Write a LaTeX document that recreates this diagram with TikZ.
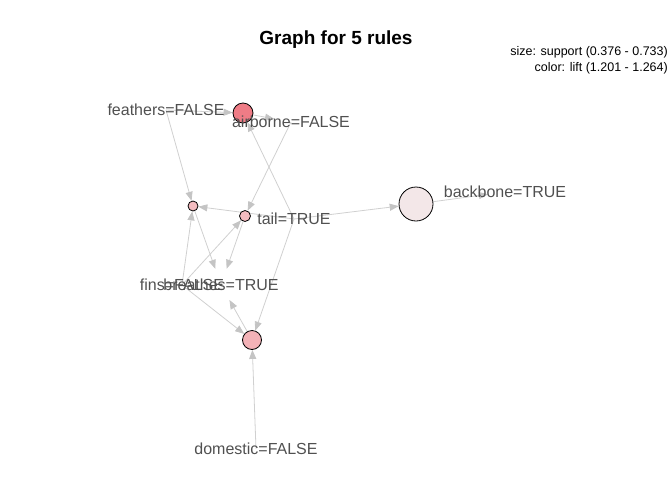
\documentclass[tikz,border=0pt]{standalone}
\usepackage{fontspec}
\setmainfont{Liberation Sans}
\usetikzlibrary{arrows.meta,backgrounds}
\definecolor{edgec}{RGB}{208,208,208}
\definecolor{headc}{RGB}{196,196,196}
\definecolor{labc}{RGB}{80,80,80}
\definecolor{cA}{RGB}{239,124,134}
\definecolor{cB}{RGB}{244,188,192}
\definecolor{cC}{RGB}{243,178,183}
\definecolor{cD}{RGB}{243,231,232}
\tikzset{
  rulev/.style={circle,draw=black,line width=0.8pt,inner sep=0pt},
  itemv/.style={circle,minimum size=34pt,inner sep=0pt},
  itemlab/.style={text=labc,font=\fontsize{16}{18}\selectfont,inner sep=0pt,anchor=center},
  edge/.style={draw=edgec,line width=0.8pt,-{Triangle[length=9pt,width=7pt,fill=headc,color=headc]}},
  legend/.style={font=\fontsize{12.5}{14}\selectfont,anchor=east,inner sep=0pt}
}
\begin{document}
\begin{tikzpicture}[x=1pt,y=-1pt]
\useasboundingbox (0,0) rectangle (672,480);
% item vertices
\node[itemv] (feathers) at (166,110) {};
\node[itemv] (airborne) at (291,122) {};
\node[itemv] (tail) at (294,219) {};
\node[itemv] (backbone) at (505,192) {};
\node[itemv] (fins) at (182,285) {};
\node[itemv] (breathes) at (221,285) {};
\node[itemv] (domestic) at (256,449) {};
% rule vertices
\node[rulev,minimum size=20pt,fill=cA] (r1) at (243,113) {};
\node[rulev,minimum size=10pt,fill=cB] (r2) at (193,206) {};
\node[rulev,minimum size=11pt,fill=cB] (r3) at (245,216) {};
\node[rulev,minimum size=34pt,fill=cD] (r4) at (416,204) {};
\node[rulev,minimum size=19pt,fill=cC] (r5) at (252,340) {};
% edges
\begin{scope}[on background layer]
\draw[edge] (feathers.center) -- (r1);
\draw[edge] (tail.center) -- (r1);
\draw[edge] (r1) -- (airborne);
\draw[edge] (feathers.center) -- (r2);
\draw[edge] (tail.center) -- (r2);
\draw[edge] (fins.center) -- (r2);
\draw[edge] (r2) -- (breathes);
\draw[edge] (airborne.center) -- (r3);
\draw[edge] (fins.center) -- (r3);
\draw[edge] (r3) -- (breathes);
\draw[edge] (tail.center) -- (r4);
\draw[edge] (r4) -- (backbone);
\draw[edge] (fins.center) -- (r5);
\draw[edge] (tail.center) -- (r5);
\draw[edge] (domestic.center) -- (r5);
\draw[edge] (r5) -- (breathes);
\end{scope}
% labels
\node[itemlab] (featherslab) at (feathers) {feathers=FALSE};
\node[itemlab] (airbornelab) at (airborne) {airborne=FALSE};
\node[itemlab] (taillab) at (tail) {tail=TRUE};
\node[itemlab] (backbonelab) at (backbone) {backbone=TRUE};
\node[itemlab] (finslab) at (fins) {fins=FALSE};
\node[itemlab] (breatheslab) at (breathes) {breathes=TRUE};
\node[itemlab] (domesticlab) at (domestic) {domestic=FALSE};
% title and legend
\node[font=\bfseries\fontsize{19}{22}\selectfont,inner sep=0pt] (title) at (336,40) {Graph for 5 rules};
\node[legend] (leg1) at (668,52) {size: support (0.376 - 0.733)};
\node[legend] (leg2) at (668,68) {color: lift (1.201 - 1.264)};
\end{tikzpicture}
\end{document}
